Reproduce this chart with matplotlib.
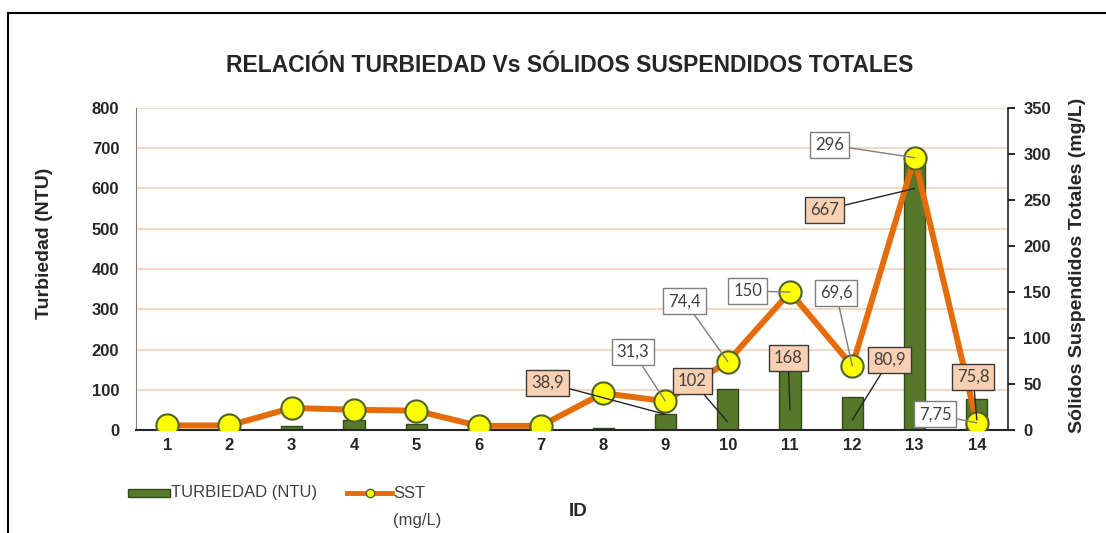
import numpy as np
import matplotlib
matplotlib.use("Agg")
import matplotlib.pyplot as plt
from matplotlib.patches import Rectangle
from matplotlib.lines import Line2D

plt.rcParams['font.family'] = ['Liberation Sans', 'DejaVu Sans']

# data
ids = list(range(1, 15))
turbiedad = [0, 0, 10, 25, 15, 0, 0, 5, 38.9, 102, 168, 80.9, 667, 75.8]
sst = [5, 5, 24, 22, 21, 4.5, 4.5, 40, 31.3, 74.4, 150, 69.6, 296, 7.75]

# callout labels: (id, text, label x, label y, anchor y)
turb_labels = [(9, "38,9", 7.11, 117, 38.9), (10, "102", 9.43, 122, 20),
               (11, "168", 10.97, 179, 50), (12, "80,9", 12.60, 174, 25),
               (13, "667", 11.56, 547, 600), (14, "75,8", 13.94, 132, 25)]
sst_labels = [(9, "31,3", 8.48, 85), (10, "74,4", 9.31, 140),
              (11, "150", 10.32, 151), (12, "69,6", 11.74, 149),
              (13, "296", 11.63, 310), (14, "7,75", 13.33, 17)]

BAR_GREEN = "#56782a"
ORANGE = "#e46c0a"
TXT = "#262626"
W, H = 1106, 533


def fx(px):
    return px / W


def fy(py):
    return 1 - py / H


fig = plt.figure(figsize=(W / 100, H / 100), dpi=100)
ax = fig.add_axes([fx(136), fy(430), fx(1008) - fx(136), fy(108) - fy(430)])
ax2 = ax.twinx()

# bars (left axis)
ax.bar(ids, turbiedad, width=0.34, color=BAR_GREEN, edgecolor="#34481a",
       linewidth=1, zorder=2)
ax.set_xlim(0.5, 14.5)
ax.set_ylim(0, 800)
ax.set_yticks(range(0, 801, 100))
ax.set_xticks(ids)
ax.grid(axis="y", color="#f3d9c6", linewidth=1.5, zorder=0)
ax.set_axisbelow(True)
ax.tick_params(axis="y", length=0, pad=12, labelsize=12)
ax.tick_params(axis="x", length=0, pad=6, labelsize=12)
for lbl in ax.get_xticklabels() + ax.get_yticklabels():
    lbl.set_fontweight("bold")
    lbl.set_color(TXT)
ax.spines["top"].set_visible(False)
ax.spines["right"].set_visible(False)
ax.spines["left"].set_color("#7f7f7f")
ax.spines["bottom"].set_color(TXT)
ax.spines["bottom"].set_linewidth(1.5)

# SST line (right axis)
ax2.plot(ids, sst, "-o", color=ORANGE, linewidth=4.3, markersize=16,
         markerfacecolor="#ffff00", markeredgecolor="#4f6228",
         markeredgewidth=1.5, zorder=3)
ax2.set_ylim(0, 350)
ax2.set_yticks(range(0, 351, 50))
ax2.tick_params(axis="y", length=5, width=1.2, pad=6, labelsize=12)
for lbl in ax2.get_yticklabels():
    lbl.set_fontweight("bold")
    lbl.set_color(TXT)
for s in ["top", "left", "bottom"]:
    ax2.spines[s].set_visible(False)
ax2.spines["right"].set_color(TXT)
ax2.spines["right"].set_linewidth(1.2)

# callouts, all on the top axes so they sit above the line
for i, txt, lx, ly, ay in turb_labels:
    ax2.annotate(txt, xy=(i, ay), xytext=(lx, ly), xycoords=ax.transData,
                 textcoords=ax.transData, fontsize=12,
                 family=["Lato", "DejaVu Sans"], color="#404040",
                 ha="center", va="center", zorder=6,
                 bbox=dict(boxstyle="square,pad=0.3", fc="#fad0b2",
                           ec="#3a3a3a", lw=1),
                 arrowprops=dict(arrowstyle="-", color=TXT, lw=1.0,
                                 shrinkA=0, shrinkB=0))
for i, txt, lx, ly in sst_labels:
    ax2.annotate(txt, xy=(i, sst[i - 1]), xytext=(lx, ly), fontsize=12,
                 family=["Lato", "DejaVu Sans"], color="#404040",
                 ha="center", va="center", zorder=6,
                 bbox=dict(boxstyle="square,pad=0.3", fc="white",
                           ec="#7f7f7f", lw=1),
                 arrowprops=dict(arrowstyle="-", color="#7f7f7f", lw=1.0,
                                 shrinkA=0, shrinkB=0))

# titles
fig.text(fx(570), fy(65), "RELACIÓN TURBIEDAD Vs SÓLIDOS SUSPENDIDOS TOTALES",
         ha="center", va="center", fontsize=16.5, fontweight="bold", color=TXT)
fig.text(fx(45), fy(243), "Turbiedad (NTU)", rotation=90, ha="center",
         va="center", fontsize=14, fontweight="bold", color=TXT)
fig.text(fx(1077), fy(265), "Sólidos Suspendidos Totales (mg/L)", rotation=90,
         ha="center", va="center", fontsize=14, fontweight="bold", color=TXT)
fig.text(fx(578), fy(512), "ID", ha="center", va="center", fontsize=13.5,
         fontweight="bold", color=TXT)

# legend drawn by hand
fig.patches.append(Rectangle((fx(128), fy(497)), fx(170) - fx(128), fy(489) - fy(497),
                             transform=fig.transFigure, fc=BAR_GREEN, ec="#34481a", lw=1))
fig.text(fx(171), fy(493), "TURBIEDAD (NTU)", ha="left", va="center",
         fontsize=12, color="#404040")
fig.lines.append(Line2D([fx(347), fx(392)], [fy(493), fy(493)], transform=fig.transFigure,
                        color=ORANGE, lw=3.5))
fig.lines.append(Line2D([fx(369.5)], [fy(493)], transform=fig.transFigure,
                        marker="o", markersize=6, markerfacecolor="#ffff00",
                        markeredgecolor="#4f6228", lw=0))
fig.text(fx(393), fy(493), "SST", ha="left", va="center", fontsize=12, color="#404040")
fig.text(fx(393), fy(520), "(mg/L)", ha="left", va="center", fontsize=12, color="#404040")

# chart frame (left and top edges visible)
fig.lines.append(Line2D([fx(8), fx(8)], [fy(13), 0], transform=fig.transFigure,
                        color="black", lw=1.5))
fig.lines.append(Line2D([fx(8), 1], [fy(13), fy(13)], transform=fig.transFigure,
                        color="black", lw=1.5))

fig.savefig("out.png", dpi=100)
